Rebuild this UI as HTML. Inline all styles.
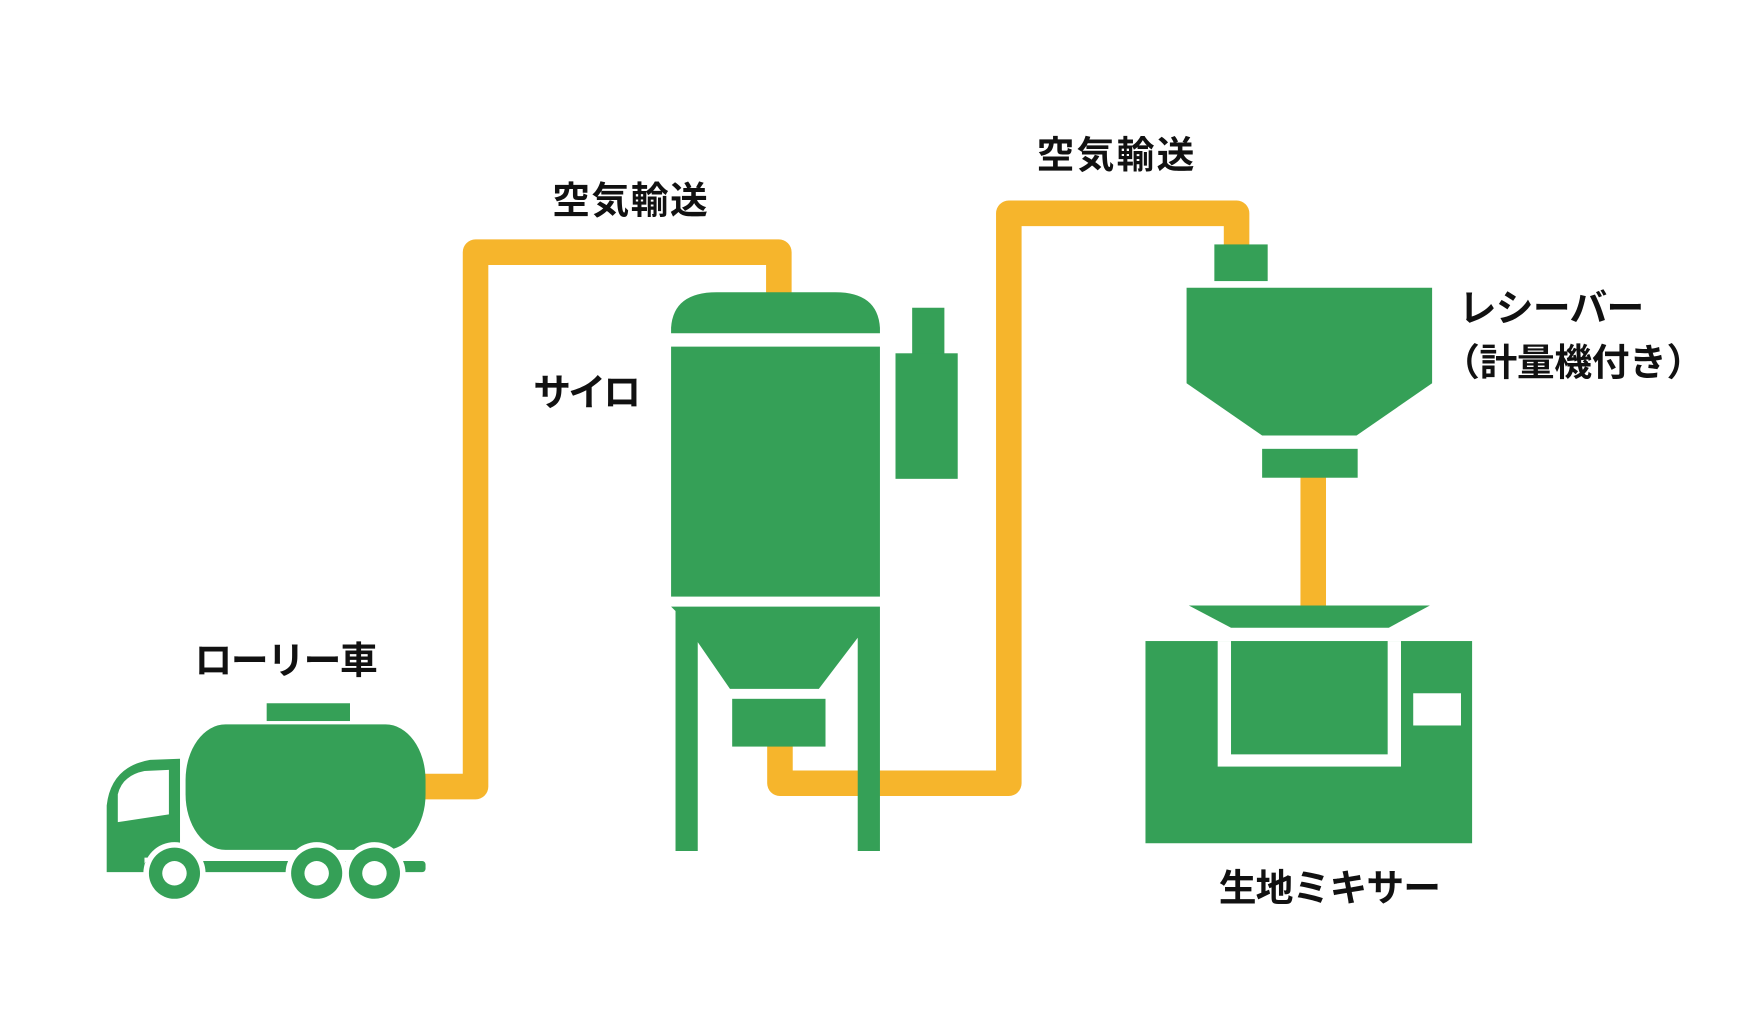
<!DOCTYPE html>
<html><head><meta charset="utf-8"><style>
html,body{margin:0;padding:0;background:#fff;width:1741px;height:1034px;overflow:hidden}
svg{display:block}
text{font-family:"Liberation Sans","Noto Sans CJK JP",sans-serif;font-weight:bold;fill:#111;font-size:34px}
</style></head><body>
<svg width="1741" height="1034" viewBox="0 0 1567 930.7" xmlns="http://www.w3.org/2000/svg">
<g fill="none" stroke="#f6b52c" stroke-width="23" stroke-linejoin="round">
<path d="M380 708 H428 V227 H701 V266"/>
<path d="M702 670 V705 H908 V192 H1113 V222"/>
<path d="M1182 428 V547"/>
</g>
<g fill="#35a057">
<rect x="240" y="633" width="75" height="16"/>
<rect x="167" y="652" width="216" height="113" rx="36" ry="50"/>
<path d="M96 785 V725 Q100 690 135 684 L162 683 V772 H130 V785 Z"/>
<rect x="130" y="775" width="253" height="10" rx="3"/>
<circle cx="157" cy="786" r="28" fill="#fff"/>
<circle cx="285" cy="786" r="28" fill="#fff"/>
<circle cx="337" cy="786" r="28" fill="#fff"/>
<circle cx="157" cy="786" r="23"/><circle cx="157" cy="786" r="11" fill="#fff"/>
<circle cx="285" cy="786" r="23"/><circle cx="285" cy="786" r="11" fill="#fff"/>
<circle cx="337" cy="786" r="23"/><circle cx="337" cy="786" r="11" fill="#fff"/>
<path d="M604 300 V295 Q606 263 645 263 H752 Q790 263 792 295 V300 Z"/>
<rect x="604" y="312" width="188" height="225"/>
<path d="M604 546 H792 V766 H772 V574 L737 620 H657 L628 578 V766 H608 V550 Z"/>
<rect x="659" y="629" width="84" height="43"/>
<rect x="821" y="277" width="29" height="42"/>
<rect x="806" y="318" width="56" height="113"/>
<rect x="1093" y="220" width="48" height="33"/>
<path d="M1068 259 H1289 V345 L1221 392 H1136 L1068 345 Z"/>
<rect x="1136" y="404" width="86" height="26"/>
<path d="M1070 545 H1287 L1250 565 H1108 Z"/>
<rect x="1031" y="577" width="294" height="182"/>
<rect x="1096" y="577" width="165" height="113" fill="#fff"/>
<rect x="1108" y="577" width="141" height="102"/>
<rect x="1272" y="624" width="43" height="29" fill="#fff"/>
</g>
<path d="M106 740 V715 Q110 698 130 694 L152 693 V733 Z" fill="#fff"/>
<text x="497" y="192" textLength="140">空気輸送</text>
<text x="933" y="151" textLength="142">空気輸送</text>
<text x="480" y="365" textLength="97">サイロ</text>
<text x="175" y="606" textLength="165">ローリー車</text>
<text x="1313" y="289" textLength="167">レシーバー</text>
<text x="1298" y="338" textLength="236">（計量機付き）</text>
<text x="1097" y="811" textLength="200">生地ミキサー</text>
</svg>
</body></html>
